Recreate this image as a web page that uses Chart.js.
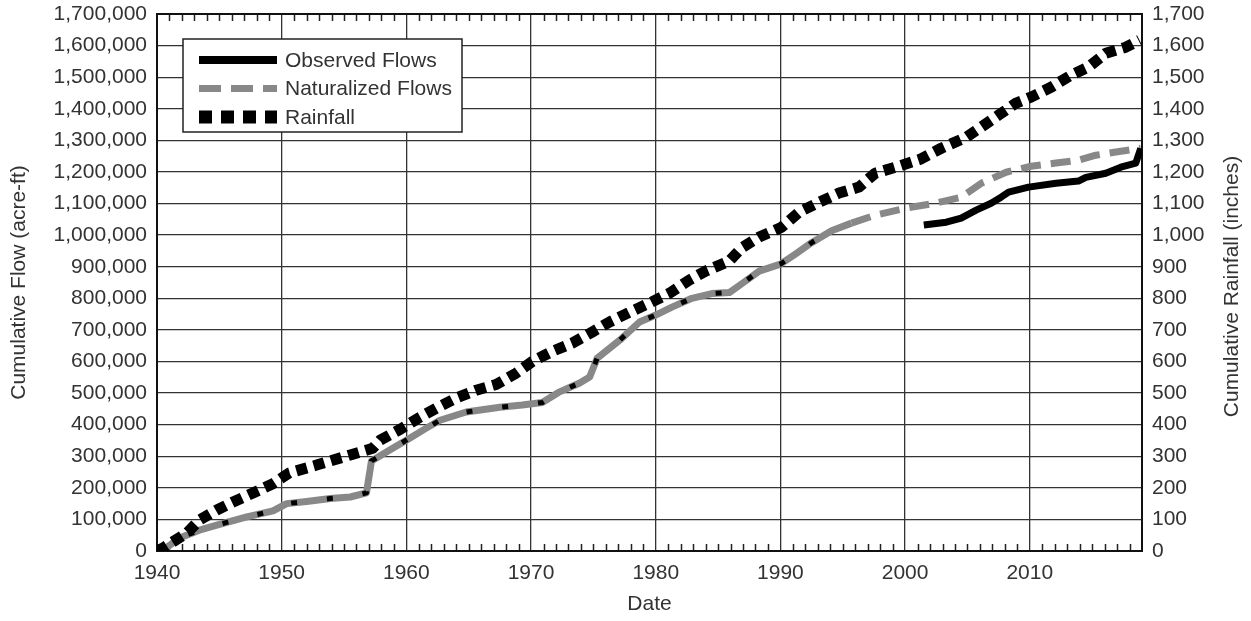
<!DOCTYPE html>
<html>
<head>
<meta charset="utf-8">
<script src="https://cdn.jsdelivr.net/npm/chart.js@4.4.1/dist/chart.umd.min.js"></script>
<style>
    html, body { margin: 0; padding: 0; background: #fff; }
    #wrap { width: 1251px; height: 621px; }
</style>
</head>
<body>
<div id="wrap"><canvas id="flowChart"></canvas></div>
<script>
// naturalized flows, cumulative (thousand acre-ft)
const natYears = [1940.0, 1940.5, 1941.8, 1943.4, 1944.8, 1947.2, 1949.3, 1950.4, 1952.0, 1953.9,
    1955.5, 1956.8, 1957.2, 1958.6, 1960.3, 1961.6, 1962.7, 1964.8, 1967.5, 1969.3,
    1970.9, 1972.2, 1973.9, 1974.7, 1975.3, 1977.1, 1978.7, 1980.0, 1981.3, 1982.9,
    1984.5, 1985.9, 1986.9, 1988.3, 1990.0, 1991.2, 1992.5, 1994.1, 1995.7, 1997.6,
    2000.0, 2002.4, 2004.5, 2006.1, 2008.1, 2010.1, 2012.1, 2013.9, 2015.3, 2016.9, 2018.9];
const natFlow = [0, 3, 41, 66, 82, 108, 127, 150, 157, 166,
    171, 184, 285, 318, 358, 389, 414, 440, 455, 462,
    470, 502, 532, 551, 610, 667, 725, 747, 772, 800,
    815, 818, 846, 886, 908, 940, 976, 1014, 1038, 1063,
    1085, 1101, 1120, 1164, 1199, 1218, 1228, 1237, 1253, 1263, 1275];

// observed flows: same record as naturalized until mid-90s, then gage record from 2001
const obsEarlyYears = [1940.0, 1940.5, 1941.8, 1943.4, 1944.8, 1947.2, 1949.3, 1950.4, 1952.0, 1953.9,
    1955.5, 1956.8, 1957.2, 1958.6, 1960.3, 1961.6, 1962.7, 1964.8, 1967.5, 1969.3,
    1970.9, 1972.2, 1973.9, 1974.7, 1975.3, 1977.1, 1978.7, 1980.0, 1981.3, 1982.9,
    1984.5, 1985.9, 1986.9, 1988.3, 1990.0, 1991.2, 1992.5, 1994.1];
const obsEarlyFlow = [0, 3, 41, 66, 82, 108, 127, 150, 157, 166,
    171, 184, 285, 318, 358, 389, 414, 440, 455, 462,
    470, 502, 532, 551, 610, 667, 725, 747, 772, 800,
    815, 818, 846, 886, 908, 940, 976, 1014];
const obsLateYears = [2001.5, 2003.3, 2004.5, 2005.7, 2006.9, 2007.7, 2008.3, 2009.9, 2012.1,
    2013.9, 2014.5, 2016.1, 2017.3, 2018.5, 2018.9];
const obsLateFlow = [1032, 1041, 1054, 1079, 1101, 1120, 1136, 1152, 1164,
    1171, 1183, 1196, 1215, 1228, 1275];

// cumulative rainfall (inches)
const rainYears = [1940.0, 1940.5, 1942.4, 1943.4, 1944.8, 1946.1, 1947.7, 1949.3, 1950.6, 1952.8,
    1955.5, 1957.3, 1957.9, 1959.5, 1961.1, 1962.4, 1964.0, 1965.6, 1967.2, 1968.8,
    1970.1, 1971.7, 1973.3, 1974.9, 1976.3, 1977.9, 1979.5, 1981.1, 1982.7, 1984.0,
    1985.9, 1986.9, 1988.3, 1990.1, 1991.5, 1993.1, 1994.7, 1996.3, 1997.6, 1999.5,
    2001.2, 2002.9, 2004.9, 2006.1, 2007.5, 2008.9, 2010.1, 2011.7, 2013.3, 2014.7,
    2016.1, 2017.7, 2018.8];
const rainfall = [0, 10, 57, 98, 130, 155, 184, 213, 247, 272,
    304, 325, 351, 385, 424, 452, 484, 509, 527, 563,
    600, 632, 658, 693, 725, 756, 785, 816, 858, 886,
    918, 960, 994, 1025, 1073, 1104, 1133, 1152, 1196, 1218,
    1240, 1275, 1310, 1342, 1380, 1418, 1437, 1468, 1506, 1532,
    1576, 1595, 1617];

const DASH_START = 1995;
const FONT = "'Liberation Sans', Arial, sans-serif";
const TEXT = '#333';

const pts = (xs, ys, k) => xs.map((x, i) => ({ x: x, y: ys[i] * k }));

const obsData = pts(obsEarlyYears, obsEarlyFlow, 1000)
    .concat([{ x: 1998, y: null }])
    .concat(pts(obsLateYears, obsLateFlow, 1000));

const noPad = s => { s.paddingTop = 0; s.paddingBottom = 0; s.paddingLeft = 0; s.paddingRight = 0; };

const chartDecor = {
    id: 'chartDecor',
    beforeDatasetsDraw(chart) {
        const { ctx, chartArea: a, scales } = chart;
        ctx.save();
        ctx.strokeStyle = '#222';
        ctx.lineWidth = 1.5;
        ctx.beginPath();
        for (let yr = 1941; yr < 2019; yr++) {
            if (yr % 10 === 0) continue;
            const x = Math.round(scales.x.getPixelForValue(yr)) + 0.5;
            ctx.moveTo(x, a.bottom); ctx.lineTo(x, a.bottom - 7);
            ctx.moveTo(x, a.top); ctx.lineTo(x, a.top + 7);
        }
        ctx.stroke();
        ctx.lineWidth = 2;
        ctx.strokeStyle = '#111';
        ctx.strokeRect(a.left, a.top, a.right - a.left, a.bottom - a.top);
        ctx.restore();
    },
    afterDraw(chart) {
        const { ctx, chartArea: a } = chart;
        ctx.save();
        // right axis title, reading bottom to top
        ctx.font = '21px ' + FONT;
        ctx.fillStyle = TEXT;
        ctx.textAlign = 'center';
        ctx.textBaseline = 'middle';
        ctx.translate(1232, (a.top + a.bottom) / 2 + 4);
        ctx.rotate(-Math.PI / 2);
        ctx.fillText('Cumulative Rainfall (inches)', 0, 0);
        ctx.restore();

        // legend box
        const bx = a.left + 26, by = a.top + 25, bw = 279, bh = 93;
        ctx.save();
        ctx.fillStyle = '#fff';
        ctx.fillRect(bx, by, bw, bh);
        ctx.strokeStyle = '#222';
        ctx.lineWidth = 1.5;
        ctx.strokeRect(bx, by, bw, bh);
        ctx.font = '21px ' + FONT;
        ctx.textBaseline = 'middle';
        [0, 1, 2].forEach((di, row) => {
            const ds = chart.data.datasets[di];
            const y = by + 21 + row * 28.5;
            ctx.beginPath();
            ctx.strokeStyle = ds.borderColor;
            ctx.lineWidth = ds.legendWidth;
            ctx.setLineDash(ds.legendDash);
            ctx.moveTo(bx + 16, y);
            ctx.lineTo(bx + 94, y);
            ctx.stroke();
            ctx.setLineDash([]);
            ctx.fillStyle = TEXT;
            ctx.fillText(ds.label, bx + 102, y + 1);
        });
        ctx.restore();
    }
};

new Chart(document.getElementById('flowChart'), {
    type: 'line',
    data: {
        datasets: [{
            label: 'Observed Flows',
            data: obsData,
            yAxisID: 'y',
            borderColor: '#000',
            borderWidth: 7,
            legendWidth: 8,
            legendDash: [],
            order: 1,
            segment: {
                borderDash: c => c.p0.parsed.x < DASH_START ? [6, 30] : undefined,
                borderWidth: c => c.p0.parsed.x < DASH_START ? 5 : undefined
            }
        }, {
            label: 'Naturalized Flows',
            data: pts(natYears, natFlow, 1000),
            yAxisID: 'y',
            borderColor: '#888',
            borderWidth: 7,
            legendWidth: 7,
            legendDash: [22, 10],
            order: 2,
            segment: {
                borderDash: c => c.p0.parsed.x >= DASH_START ? [20, 10] : undefined
            }
        }, {
            label: 'Rainfall',
            data: pts(rainYears, rainfall, 1),
            yAxisID: 'y2',
            borderColor: '#000',
            borderWidth: 11,
            borderDash: [11, 7],
            legendWidth: 13,
            legendDash: [13, 9],
            order: 0
        }]
    },
    options: {
        responsive: true,
        maintainAspectRatio: false,
        animation: false,
        spanGaps: false,
        elements: {
            point: { radius: 0, hoverRadius: 0 },
            line: { tension: 0, borderJoinStyle: 'round', borderCapStyle: 'butt', fill: false }
        },
        layout: { padding: { top: 14, left: 0, right: 0, bottom: 0 } },
        plugins: {
            legend: { display: false },
            tooltip: { enabled: false }
        },
        scales: {
            x: {
                type: 'linear',
                position: 'bottom',
                min: 1940,
                max: 2019,
                ticks: {
                    stepSize: 10,
                    includeBounds: false,
                    padding: 10,
                    color: TEXT,
                    font: { family: FONT, size: 21 },
                    maxRotation: 0,
                    callback: v => String(v)
                },
                grid: { color: '#333', lineWidth: 1.3, drawTicks: false },
                border: { display: false },
                title: {
                    display: true,
                    text: 'Date',
                    color: TEXT,
                    font: { family: FONT, size: 21 },
                    padding: { top: 0, bottom: 4 }
                },
                afterFit: s => { s.height = 70; noPad(s); }
            },
            y: {
                position: 'left',
                min: 0,
                max: 1700000,
                ticks: {
                    stepSize: 100000,
                    padding: 10,
                    color: TEXT,
                    font: { family: FONT, size: 21 },
                    callback: v => v.toLocaleString('en-US')
                },
                grid: { color: '#333', lineWidth: 1.3, drawTicks: false },
                border: { display: false },
                title: {
                    display: true,
                    text: 'Cumulative Flow (acre-ft)',
                    color: TEXT,
                    font: { family: FONT, size: 21 },
                    padding: { top: 7, bottom: 0 }
                },
                afterFit: s => { s.width = 157; noPad(s); }
            },
            y2: {
                position: 'right',
                min: 0,
                max: 1700,
                ticks: {
                    stepSize: 100,
                    padding: 10,
                    color: TEXT,
                    font: { family: FONT, size: 21 },
                    callback: v => v.toLocaleString('en-US')
                },
                grid: { drawOnChartArea: false, drawTicks: false },
                border: { display: false },
                afterFit: s => { s.width = 109; noPad(s); }
            }
        }
    },
    plugins: [chartDecor]
});
</script>
</body>
</html>
